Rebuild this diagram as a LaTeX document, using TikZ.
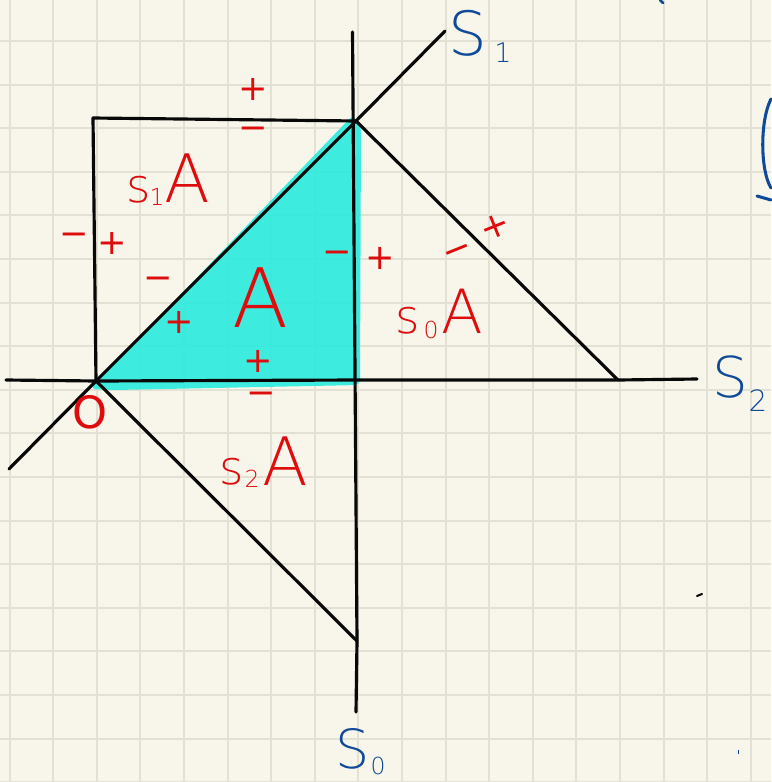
\documentclass[tikz,border=0pt]{standalone}
\usepackage{fontspec}
\setmainfont{DejaVu Sans}
\newfontfamily\handlight{DejaVu Sans ExtraLight}
\definecolor{paper}{RGB}{248,246,235}
\definecolor{gridc}{RGB}{226,225,212}
\definecolor{ink}{RGB}{8,8,8}
\definecolor{hred}{RGB}{222,12,12}
\definecolor{hblue}{RGB}{14,74,152}
\definecolor{hcyan}{RGB}{42,236,222}
\tikzset{
  gridline/.style={draw=gridc, line width=1.6pt},
  blackline/.style={draw=ink, line width=2.7pt, line cap=round, line join=round},
  sgn/.style={text=hred, inner sep=0pt, font=\fontsize{30}{30}\selectfont},
  redbig/.style={text=hred, inner sep=0pt, anchor=base},
  bluelbl/.style={text=hblue, inner sep=0pt, anchor=base},
}
\begin{document}
\begin{tikzpicture}[x=0.03cm,y=-0.03cm]
\useasboundingbox (0,0) rectangle (771,782);
\fill[paper] (0,0) rectangle (771,782);
\foreach \k in {0,...,17} {
  \draw[gridline] ({9.6+43.6*\k},0) -- ({9.6+43.6*\k},782);
  \draw[gridline] (0,{41+43.6*\k}) -- (771,{41+43.6*\k});
}
% key points
\coordinate (O) at (96,381);
\coordinate (P) at (356,121);
\coordinate (Q) at (357,380);
\coordinate (R) at (93,118);
\coordinate (T) at (618,380);
\coordinate (U) at (357,641);
\coordinate (s0t) at (352.5,32);
\coordinate (s0b) at (356,712);
\coordinate (s1a) at (9,469);
\coordinate (s1b) at (445,31);
\coordinate (s2a) at (6,380);
\coordinate (s2b) at (697,379);
% cyan region A
\fill[hcyan, opacity=0.9, rounded corners=5pt] (90,389) -- (353,115) -- (361,126) -- (360,385) -- (115,390) -- cycle;
% lines
\draw[blackline] (s0t) -- (U) -- (s0b);
\draw[blackline] (s1a) -- (O) -- (P) -- (s1b);
\draw[blackline] (s2a) -- (O) -- (Q) -- (T) -- (s2b);
\draw[blackline] (O) -- (R) -- (P);
\draw[blackline] (P) -- (T);
\draw[blackline] (O) -- (U);
% red signs
\node[sgn] (p1) at (253,89) {+};
\node[sgn] (m1) at (253,133) {−};
\node[sgn] (m2) at (74,239) {−};
\node[sgn] (p2) at (112,243) {+};
\node[sgn] (m3) at (158,283) {−};
\node[sgn] (p3) at (179,322) {+};
\node[sgn] (m4) at (337,257) {−};
\node[sgn] (p4) at (380,258) {+};
\node[sgn, rotate=22] (p5) at (495,227) {+};
\node[sgn, rotate=22] (m5) at (459,254) {−};
\node[sgn] (p6) at (258,361) {+};
\node[sgn] (m6) at (261,398) {−};
% red region labels
\node[redbig, font=\handlight\fontsize{40}{40}\selectfont] (s1s) at (139,202) {s};
\node[redbig, font=\handlight\fontsize{20}{20}\selectfont] (s1n) at (157,205) {1};
\node[redbig, font=\handlight\fontsize{57}{57}\selectfont] (s1A) at (187,202) {A};
\node[redbig, font=\handlight\fontsize{70}{70}\selectfont] (bigA) at (261,327) {A};
\node[redbig, font=\handlight\fontsize{40}{40}\selectfont] (s0s) at (408,333) {s};
\node[redbig, font=\handlight\fontsize{20}{20}\selectfont] (s0n) at (431,338) {0};
\node[redbig, font=\handlight\fontsize{52}{52}\selectfont] (s0A) at (462,333) {A};
\node[redbig, font=\handlight\fontsize{40}{40}\selectfont] (s2s) at (232,484) {s};
\node[redbig, font=\handlight\fontsize{20}{20}\selectfont] (s2n) at (252,487) {2};
\node[redbig, font=\handlight\fontsize{57}{57}\selectfont] (s2A) at (285,485) {A};
\node[text=hred, inner sep=0pt, font=\fontsize{38}{38}\selectfont] (Olbl) at (90,412) {O};
% blue line labels
\node[bluelbl, font=\handlight\fontsize{52}{52}\selectfont] (S1S) at (468,55) {S};
\node[bluelbl, font=\handlight\fontsize{23}{23}\selectfont] (S1n) at (503,62) {1};
\node[bluelbl, font=\handlight\fontsize{48}{48}\selectfont] (S2S) at (730,397) {S};
\node[bluelbl, font=\handlight\fontsize{25}{25}\selectfont] (S2n) at (758,411) {2};
\node[bluelbl, font=\handlight\fontsize{46}{46}\selectfont] (S0S) at (353,768) {S};
\node[bluelbl, font=\handlight\fontsize{20}{20}\selectfont] (S0n) at (378,774) {0};
% stray marks at the edges
\draw[hblue, line width=2.6pt, line cap=round] (771,99) .. controls (760,120) and (760,170) .. (771,188);
\draw[hblue, line width=2.6pt, line cap=round] (757,196) -- (771,200);
\draw[hblue, line width=2.4pt, line cap=round] (660,0) -- (663,3);
\draw[ink, line width=1.8pt, line cap=round] (697,596) -- (702,594);
\fill[hblue] (737.5,750) rectangle (739,753.5);
\end{tikzpicture}
\end{document}
